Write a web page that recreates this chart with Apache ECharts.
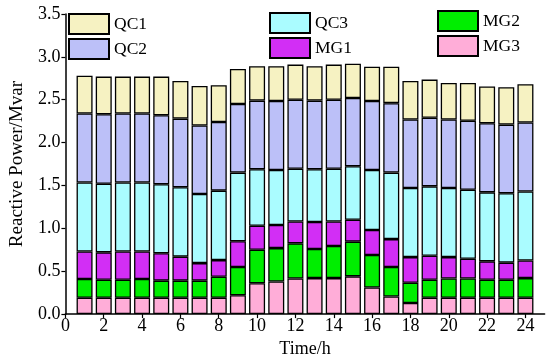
<!DOCTYPE html>
<html>
<head>
<meta charset="utf-8">
<script src="https://cdn.jsdelivr.net/npm/echarts@6/dist/echarts.min.js"></script>
<style>html,body{margin:0;padding:0;background:#fff}#c{width:550px;height:363px}</style>
</head>
<body>
<div id="c"></div>
<script>
var hours = [1,2,3,4,5,6,7,8,9,10,11,12,13,14,15,16,17,18,19,20,21,22,23,24];
var xCategories = ['0','1','2','3','4','5','6','7','8','9','10','11','12','13','14','15','16','17','18','19','20','21','22','23','24','25'];
var xTickLabels = ['0','2','4','6','8','10','12','14','16','18','20','22','24'];
var MG3 = [0.19,0.19,0.19,0.19,0.19,0.19,0.19,0.19,0.22,0.36,0.38,0.415,0.42,0.42,0.44,0.31,0.205,0.13,0.19,0.19,0.19,0.19,0.19,0.19];
var MG2 = [0.22,0.21,0.21,0.22,0.20,0.20,0.20,0.245,0.33,0.39,0.39,0.41,0.34,0.375,0.405,0.38,0.345,0.235,0.21,0.225,0.225,0.21,0.21,0.23];
var MG1 = [0.32,0.32,0.33,0.32,0.32,0.28,0.205,0.195,0.30,0.28,0.27,0.255,0.315,0.285,0.255,0.29,0.325,0.30,0.28,0.25,0.23,0.215,0.20,0.205];
var QC3 = [0.805,0.80,0.805,0.805,0.805,0.81,0.805,0.81,0.80,0.66,0.64,0.615,0.615,0.615,0.625,0.70,0.775,0.805,0.81,0.805,0.805,0.805,0.81,0.805];
var QC2 = [0.805,0.81,0.805,0.805,0.805,0.80,0.80,0.80,0.80,0.80,0.805,0.805,0.80,0.805,0.795,0.805,0.81,0.80,0.80,0.80,0.805,0.805,0.80,0.805];
var QC1 = [0.44,0.44,0.43,0.43,0.45,0.44,0.46,0.43,0.41,0.40,0.405,0.41,0.40,0.41,0.40,0.40,0.425,0.45,0.445,0.425,0.44,0.43,0.435,0.445];

var FONT = 'Liberation Serif';
function toCat(arr){
  return xCategories.map(function(c){
    var i = hours.indexOf(Number(c));
    return i >= 0 ? arr[i] : '-';
  });
}
function bar(name, arr, color){
  return {
    name: name, type: 'bar', stack: 'total', barWidth: 16,
    itemStyle: { color: color, borderColor: '#000', borderWidth: 1.3 },
    data: toCat(arr)
  };
}
function isTick(idx, val){ return xTickLabels.indexOf(String(val)) >= 0; }
var chart = echarts.init(document.getElementById('c'), null, {renderer:'canvas'});
var legendCommon = {
  orient: 'vertical', itemWidth: 40, itemHeight: 20, itemGap: 3, padding: 0,
  icon: 'rect',
  textStyle: { fontFamily: FONT, fontSize: 17.5, color: '#000' }
};
chart.setOption({
  animation: false,
  backgroundColor: '#fff',
  grid: { left: 53, right: 5.4, top: 14, bottom: 44.5 },
  legend: [
    Object.assign({ left: 68, top: 13, data: ['QC1','QC2'] }, legendCommon),
    Object.assign({ left: 269, top: 12, data: ['QC3','MG1'] }, legendCommon),
    Object.assign({ left: 437, top: 10, data: ['MG2','MG3'] }, legendCommon)
  ],
  xAxis: {
    type: 'category', data: xCategories, boundaryGap: false,
    name: 'Time/h', nameLocation: 'middle', nameGap: 18,
    nameTextStyle: { fontFamily: FONT, fontSize: 18, color: '#000' },
    axisLine: { lineStyle: { color: '#000', width: 1.5 } },
    axisTick: { show: true, length: 4, alignWithLabel: true, interval: isTick, lineStyle: { color: '#000', width: 1.2 } },
    axisLabel: { fontFamily: FONT, fontSize: 18, color: '#000', margin: 3, interval: isTick },
    splitLine: { show: false }
  },
  yAxis: {
    type: 'value', min: 0, max: 3.5, interval: 0.5,
    name: 'Reactive Power/Mvar', nameLocation: 'middle', nameGap: 30,
    nameTextStyle: { fontFamily: FONT, fontSize: 19, color: '#000' },
    axisLine: { show: true, lineStyle: { color: '#000', width: 1.5 } },
    axisTick: { show: true, length: 4, lineStyle: { color: '#000', width: 1.2 } },
    axisLabel: { fontFamily: FONT, fontSize: 18, color: '#000', margin: 5,
      formatter: function(v){ return v.toFixed(1); } },
    splitLine: { show: false }
  },
  series: [
    bar('MG3', MG3, '#FFADD8'),
    bar('MG2', MG2, '#00EE00'),
    bar('MG1', MG1, '#D22EF5'),
    bar('QC3', QC3, '#AAFCFF'),
    bar('QC2', QC2, '#BCC0F8'),
    bar('QC1', QC1, '#F6F2C2')
  ]
});
</script>
</body>
</html>
